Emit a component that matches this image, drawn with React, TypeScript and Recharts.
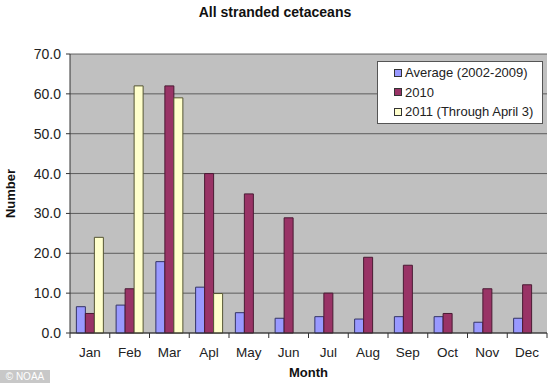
import { BarChart, Bar, XAxis, YAxis, CartesianGrid, Label } from "recharts";

const months = ["Jan", "Feb", "Mar", "Apl", "May", "Jun", "Jul", "Aug", "Sep", "Oct", "Nov", "Dec"];
const average = [6.6, 7.0, 17.9, 11.5, 5.1, 3.7, 4.1, 3.5, 4.1, 4.1, 2.7, 3.7];
const y2010 = [4.9, 11.1, 62.0, 40.0, 34.9, 28.9, 10.0, 19.0, 17.0, 4.9, 11.1, 12.1];
const y2011 = [24.0, 62.0, 59.0, 9.9, null, null, null, null, null, null, null, null];
const yTicks = [0, 10, 20, 30, 40, 50, 60, 70];

const data = months.map((m, i) => ({ month: m, avg: average[i], y2010: y2010[i], y2011: y2011[i] }));

const series = [
  { key: "avg", name: "Average (2002-2009)", fill: "#9999ff", stroke: "#333366" },
  { key: "y2010", name: "2010", fill: "#993366", stroke: "#4a1a33" },
  { key: "y2011", name: "2011 (Through April 3)", fill: "#ffffcc", stroke: "#555533" },
];

const FONT = "'Liberation Sans', Arial, sans-serif";
const PLOT_W = 477;

// tick de l'axe X : libellé centré, trait de graduation à la limite de catégorie
const MonthTick = (props: any) => {
  const { x, y, payload, index } = props;
  const band = PLOT_W / months.length;
  const left = x - band / 2;
  return (
    <g>
      <line x1={left} x2={left} y1={y - 8} y2={y - 3} stroke="#333" />
      {index === months.length - 1 && (
        <line x1={left + band} x2={left + band} y1={y - 8} y2={y - 3} stroke="#333" />
      )}
      <text x={x} y={y + 16} textAnchor="middle" fill="#222" fontSize={13.5} fontFamily={FONT}>
        {payload.value}
      </text>
    </g>
  );
};

export default function App() {
  return (
    <div style={{ position: "fixed", left: 0, top: 0, width: 550, height: 383, background: "#fff" }}>
      <div
        style={{
          position: "absolute",
          top: 4,
          width: 550,
          textAlign: "center",
          fontFamily: FONT,
          fontWeight: "bold",
          fontSize: 14,
          color: "#111",
        }}
      >
        All stranded cetaceans
      </div>
      <BarChart
        width={550}
        height={383}
        data={data}
        margin={{ top: 54, right: 3, left: 0, bottom: 0 }}
        barCategoryGap="16%"
        barGap={0}
      >
        <CartesianGrid vertical={false} stroke="#444" fill="#c0c0c0" strokeOpacity={0.8} />
        <XAxis
          dataKey="month"
          height={50}
          tickLine={false}
          axisLine={{ stroke: "#333" }}
          tick={<MonthTick />}
          interval={0}
        >
          <Label
            content={({ viewBox }: any) => (
              <text
                x={viewBox.x + viewBox.width / 2}
                y={viewBox.y + 44}
                textAnchor="middle"
                fontFamily={FONT}
                fontWeight="bold"
                fontSize={13}
                fill="#111"
              >
                Month
              </text>
            )}
          />
        </XAxis>
        <YAxis
          width={70}
          domain={[0, 70]}
          ticks={yTicks}
          interval={0}
          axisLine={{ stroke: "#333" }}
          tickLine={{ stroke: "#333" }}
          tickSize={4}
          tickFormatter={(v: number) => v.toFixed(1)}
          tick={{ fill: "#222", fontSize: 14, fontFamily: FONT, dx: -3 }}
        >
          <Label
            content={({ viewBox }: any) => {
              const cy = viewBox.y + viewBox.height / 2;
              return (
                <text
                  x={10}
                  y={cy}
                  transform={`rotate(-90 10 ${cy})`}
                  textAnchor="middle"
                  dominantBaseline="central"
                  fontFamily={FONT}
                  fontWeight="bold"
                  fontSize={13}
                  fill="#111"
                >
                  Number
                </text>
              );
            }}
          />
        </YAxis>
        {series.map((s) => (
          <Bar
            key={s.key}
            dataKey={s.key}
            name={s.name}
            fill={s.fill}
            stroke={s.stroke}
            strokeWidth={1}
            isAnimationActive={false}
          />
        ))}
      </BarChart>
      <div
        style={{
          position: "absolute",
          left: 377,
          top: 61,
          width: 148,
          border: "1px solid #555",
          background: "#fff",
          padding: "1px 0 1px 16px",
          fontFamily: FONT,
          fontSize: 13,
          color: "#222",
        }}
      >
        {series.map((s) => (
          <div key={s.key} style={{ display: "flex", alignItems: "center", height: 19.5 }}>
            <span
              style={{
                display: "inline-block",
                width: 6,
                height: 6,
                background: s.fill,
                border: "1px solid #333",
                marginRight: 3,
              }}
            />
            {s.name}
          </div>
        ))}
      </div>
      <div
        style={{
          position: "absolute",
          left: 0,
          top: 370,
          width: 50,
          height: 13,
          background: "#c8c8c8",
          color: "#fff",
          fontFamily: FONT,
          fontSize: 10,
          lineHeight: "13px",
          textAlign: "center",
        }}
      >
        © NOAA
      </div>
    </div>
  );
}
